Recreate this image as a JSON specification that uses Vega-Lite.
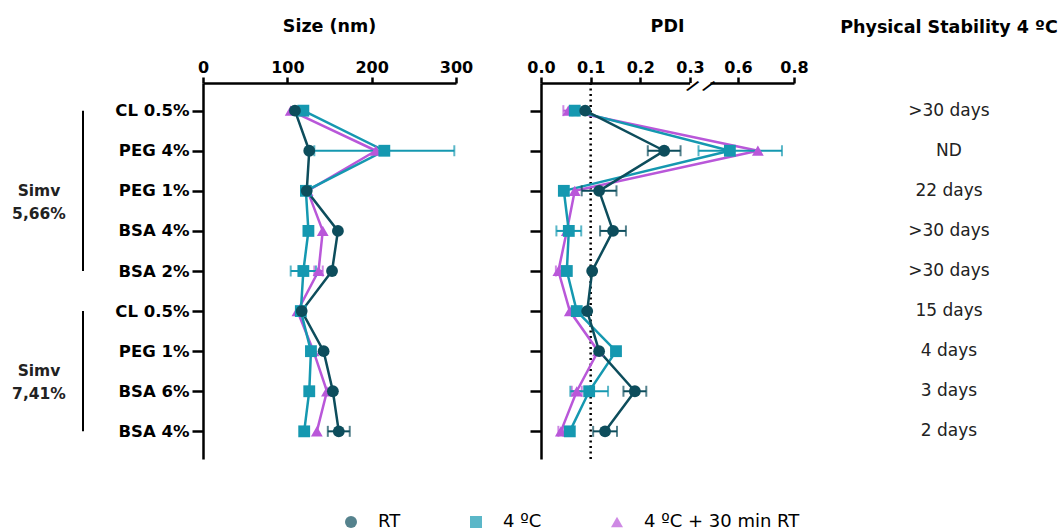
{
  "$schema": "https://vega.github.io/schema/vega-lite/v6.json",
  "padding": {"left": 12, "top": 17, "right": 0, "bottom": 0},
  "bounds": "flush",
  "spacing": 85,
  "datasets": {
    "formulations": [
      {"row": 1, "key": "5,66|CL 0.5%", "group": "Simv 5,66%", "formulation": "CL 0.5%", "stability": ">30 days"},
      {"row": 2, "key": "5,66|PEG 4%", "group": "Simv 5,66%", "formulation": "PEG 4%", "stability": "ND"},
      {"row": 3, "key": "5,66|PEG 1%", "group": "Simv 5,66%", "formulation": "PEG 1%", "stability": "22 days"},
      {"row": 4, "key": "5,66|BSA 4%", "group": "Simv 5,66%", "formulation": "BSA 4%", "stability": ">30 days"},
      {"row": 5, "key": "5,66|BSA 2%", "group": "Simv 5,66%", "formulation": "BSA 2%", "stability": ">30 days"},
      {"row": 6, "key": "7,41|CL 0.5%", "group": "Simv 7,41%", "formulation": "CL 0.5%", "stability": "15 days"},
      {"row": 7, "key": "7,41|PEG 1%", "group": "Simv 7,41%", "formulation": "PEG 1%", "stability": "4 days"},
      {"row": 8, "key": "7,41|BSA 6%", "group": "Simv 7,41%", "formulation": "BSA 6%", "stability": "3 days"},
      {"row": 9, "key": "7,41|BSA 4%", "group": "Simv 7,41%", "formulation": "BSA 4%", "stability": "2 days"}
    ],
    "measurements": [
      {"row": 1, "key": "5,66|CL 0.5%", "condition": "4 ºC + 30 min RT", "size": 104, "sizeErr": null, "pdi": 0.055, "pdiErr": 0.01},
      {"row": 2, "key": "5,66|PEG 4%", "condition": "4 ºC + 30 min RT", "size": 205, "sizeErr": null, "pdi": 0.671, "pdiErr": null},
      {"row": 3, "key": "5,66|PEG 1%", "condition": "4 ºC + 30 min RT", "size": 124, "sizeErr": null, "pdi": 0.068, "pdiErr": null},
      {"row": 4, "key": "5,66|BSA 4%", "condition": "4 ºC + 30 min RT", "size": 142, "sizeErr": null, "pdi": 0.052, "pdiErr": null},
      {"row": 5, "key": "5,66|BSA 2%", "condition": "4 ºC + 30 min RT", "size": 137, "sizeErr": 5, "pdi": 0.035, "pdiErr": 0.005},
      {"row": 6, "key": "7,41|CL 0.5%", "condition": "4 ºC + 30 min RT", "size": 112, "sizeErr": null, "pdi": 0.058, "pdiErr": null},
      {"row": 7, "key": "7,41|PEG 1%", "condition": "4 ºC + 30 min RT", "size": 131, "sizeErr": null, "pdi": 0.115, "pdiErr": null},
      {"row": 8, "key": "7,41|BSA 6%", "condition": "4 ºC + 30 min RT", "size": 147, "sizeErr": null, "pdi": 0.072, "pdiErr": 0.01},
      {"row": 9, "key": "7,41|BSA 4%", "condition": "4 ºC + 30 min RT", "size": 135, "sizeErr": null, "pdi": 0.04, "pdiErr": 0.005},
      {"row": 1, "key": "5,66|CL 0.5%", "condition": "4 ºC", "size": 119, "sizeErr": 5, "pdi": 0.068, "pdiErr": 0.006},
      {"row": 2, "key": "5,66|PEG 4%", "condition": "4 ºC", "size": 215, "sizeErr": 83, "pdi": 0.571, "pdiErr": 0.186},
      {"row": 3, "key": "5,66|PEG 1%", "condition": "4 ºC", "size": 122, "sizeErr": null, "pdi": 0.046, "pdiErr": null},
      {"row": 4, "key": "5,66|BSA 4%", "condition": "4 ºC", "size": 125, "sizeErr": null, "pdi": 0.056, "pdiErr": 0.025},
      {"row": 5, "key": "5,66|BSA 2%", "condition": "4 ºC", "size": 119, "sizeErr": 15, "pdi": 0.052, "pdiErr": null},
      {"row": 6, "key": "7,41|CL 0.5%", "condition": "4 ºC", "size": 116, "sizeErr": null, "pdi": 0.072, "pdiErr": null},
      {"row": 7, "key": "7,41|PEG 1%", "condition": "4 ºC", "size": 128, "sizeErr": null, "pdi": 0.151, "pdiErr": null},
      {"row": 8, "key": "7,41|BSA 6%", "condition": "4 ºC", "size": 126, "sizeErr": null, "pdi": 0.097, "pdiErr": 0.038},
      {"row": 9, "key": "7,41|BSA 4%", "condition": "4 ºC", "size": 120, "sizeErr": null, "pdi": 0.058, "pdiErr": null},
      {"row": 1, "key": "5,66|CL 0.5%", "condition": "RT", "size": 109, "sizeErr": null, "pdi": 0.089, "pdiErr": null},
      {"row": 2, "key": "5,66|PEG 4%", "condition": "RT", "size": 126, "sizeErr": null, "pdi": 0.248, "pdiErr": 0.033},
      {"row": 3, "key": "5,66|PEG 1%", "condition": "RT", "size": 123, "sizeErr": null, "pdi": 0.117, "pdiErr": 0.035},
      {"row": 4, "key": "5,66|BSA 4%", "condition": "RT", "size": 160, "sizeErr": null, "pdi": 0.145, "pdiErr": 0.026},
      {"row": 5, "key": "5,66|BSA 2%", "condition": "RT", "size": 153, "sizeErr": null, "pdi": 0.103, "pdiErr": null},
      {"row": 6, "key": "7,41|CL 0.5%", "condition": "RT", "size": 117, "sizeErr": null, "pdi": 0.093, "pdiErr": null},
      {"row": 7, "key": "7,41|PEG 1%", "condition": "RT", "size": 143, "sizeErr": null, "pdi": 0.117, "pdiErr": null},
      {"row": 8, "key": "7,41|BSA 6%", "condition": "RT", "size": 154, "sizeErr": null, "pdi": 0.189, "pdiErr": 0.023},
      {"row": 9, "key": "7,41|BSA 4%", "condition": "RT", "size": 161, "sizeErr": 13, "pdi": 0.129, "pdiErr": 0.024}
    ]
  },
  "hconcat": [
    {
      "width": 70,
      "height": 376,
      "data": {"name": "formulations"},
      "transform": [
        {"aggregate": [
          {"op": "min", "field": "row", "as": "first"},
          {"op": "max", "field": "row", "as": "last"},
          {"op": "mean", "field": "row", "as": "mid"}
        ], "groupby": ["group"]}
      ],
      "layer": [
        {
          "mark": {"type": "rule", "color": "#000", "strokeWidth": 2},
          "encoding": {
            "y": {"field": "first", "type": "quantitative", "scale": {"domain": [0.31, 9.69], "reverse": true, "nice": false, "zero": false}, "axis": null},
            "y2": {"field": "last"}
          }
        },
        {
          "mark": {"type": "text", "font": "DejaVu Sans", "fontWeight": "bold", "fontSize": 15.5, "lineBreak": " ", "lineHeight": 23, "align": "center", "baseline": "middle", "dx": -44, "color": "#222"},
          "encoding": {
            "y": {"field": "mid", "type": "quantitative"},
            "text": {"field": "group"}
          }
        }
      ]
    },
    {
      "width": 253,
      "height": 376,
      "title": {"text": "Size (nm)", "offset": 24},
      "data": {"name": "measurements"},
      "encoding": {
        "y": {
          "field": "key", "type": "ordinal",
          "scale": {"type": "point", "padding": 0.69, "domain": ["5,66|CL 0.5%", "5,66|PEG 4%", "5,66|PEG 1%", "5,66|BSA 4%", "5,66|BSA 2%", "7,41|CL 0.5%", "7,41|PEG 1%", "7,41|BSA 6%", "7,41|BSA 4%"]},
          "axis": {"title": null, "labelExpr": "split(datum.value, '|')[1]"}
        }
      },
      "layer": [
        {
          "mark": {"type": "line", "strokeWidth": 2.5},
          "encoding": {
            "x": {"field": "size", "type": "quantitative", "scale": {"domain": [0, 300], "nice": false}, "axis": {"title": null, "orient": "top", "values": [0, 100, 200, 300]}},
            "color": {"field": "condition", "type": "nominal"},
            "order": {"field": "row", "type": "quantitative"}
          }
        },
        {
          "transform": [{"filter": "datum.sizeErr > 0"}],
          "mark": {"type": "errorbar", "ticks": true, "size": 11, "thickness": 2},
          "encoding": {
            "x": {"field": "size", "type": "quantitative"},
            "xError": {"field": "sizeErr"},
            "color": {"field": "condition", "type": "nominal"}
          }
        },
        {
          "mark": {"type": "point", "filled": true, "size": 140, "opacity": 1},
          "encoding": {
            "x": {"field": "size", "type": "quantitative"},
            "color": {
              "field": "condition", "type": "nominal",
              "scale": {"domain": ["RT", "4 ºC", "4 ºC + 30 min RT"], "range": ["#0d4d5c", "#1598b0", "#b957d9"]},
              "legend": {
                "title": null,
                "orient": "none",
                "legendX": 294,
                "legendY": 430,
                "direction": "horizontal",
                "symbolSize": 144,
                "symbolOpacity": 1,
                "symbolStrokeWidth": 0,
                "labelFont": "DejaVu Sans",
                "labelFontSize": 18,
                "labelOffset": 18,
                "columnPadding": 66,
                "labelLimit": 300
              }
            },
            "shape": {
              "field": "condition", "type": "nominal",
              "scale": {"domain": ["RT", "4 ºC", "4 ºC + 30 min RT"], "range": ["circle", "square", "triangle-up"]},
              "legend": null
            }
          }
        }
      ]
    },
    {
      "width": 253,
      "height": 376,
      "title": {"text": "PDI", "offset": 24},
      "layer": [
        {
          "data": {"values": [{}]},
          "mark": {"type": "rule", "color": "#000", "strokeWidth": 2.5, "strokeDash": [2, 3.5]},
          "encoding": {
            "x": {"datum": 0.1, "type": "quantitative", "scale": {"domain": [0, 0.3], "range": [0, 149], "nice": false, "zero": false}, "axis": {"title": null, "orient": "top", "values": [0, 0.1, 0.2, 0.3], "format": ".1f"}}
          }
        },
        {
          "data": {"values": [{}]},
          "mark": {"type": "rule", "opacity": 0},
          "encoding": {
            "x": {"datum": 0.8, "type": "quantitative", "scale": {"domain": [0.5, 0.8], "range": [169, 253], "nice": false, "zero": false}, "axis": {"title": null, "orient": "top", "values": [0.6, 0.8], "format": ".1f"}}
          }
        },
        {
          "data": {"values": [{}]},
          "mark": {"type": "rule", "opacity": 0},
          "encoding": {
            "x": {"datum": 1, "type": "quantitative", "scale": {"domain": [0, 1], "range": [151, 167], "nice": false, "zero": false}, "axis": {"title": null, "orient": "top", "values": [0, 1], "labelExpr": "'/'", "domain": false, "ticks": false, "labelPadding": -3, "labelBaseline": "middle", "labelAlign": "center", "labelAngle": 35, "labelFontSize": 17, "zindex": 2}}
          }
        },
        {
          "data": {"name": "measurements"},
          "encoding": {
            "y": {
              "field": "key", "type": "ordinal",
              "scale": {"type": "point", "padding": 0.69, "domain": ["5,66|CL 0.5%", "5,66|PEG 4%", "5,66|PEG 1%", "5,66|BSA 4%", "5,66|BSA 2%", "7,41|CL 0.5%", "7,41|PEG 1%", "7,41|BSA 6%", "7,41|BSA 4%"]},
              "axis": {"title": null, "labels": false}
            }
          },
          "layer": [
            {
              "mark": {"type": "line", "strokeWidth": 2.5},
              "encoding": {
                "x": {"field": "pdi", "type": "quantitative", "scale": {"domain": [0, 0.3, 0.5, 0.8], "range": [0, 149, 169, 253], "nice": false, "zero": false}, "axis": null},
                "color": {"field": "condition", "type": "nominal"},
                "order": {"field": "row", "type": "quantitative"}
              }
            },
            {
              "data": {"values": [{}]},
              "mark": {"type": "rect", "color": "#fff"},
              "encoding": {
                "x": {"datum": 0.302, "type": "quantitative"},
                "x2": {"datum": 0.5}
              }
            },
            {
              "transform": [{"filter": "datum.pdiErr > 0"}],
              "mark": {"type": "errorbar", "ticks": true, "size": 11, "thickness": 2},
              "encoding": {
                "x": {"field": "pdi", "type": "quantitative"},
                "xError": {"field": "pdiErr"},
                "color": {"field": "condition", "type": "nominal"}
              }
            },
            {
              "mark": {"type": "point", "filled": true, "size": 140, "opacity": 1},
              "encoding": {
                "x": {"field": "pdi", "type": "quantitative"},
                "color": {"field": "condition", "type": "nominal"},
                "shape": {"field": "condition", "type": "nominal", "legend": null}
              }
            }
          ]
        }
      ],
      "resolve": {"scale": {"x": "independent"}, "axis": {"x": "independent"}}
    },
    {
      "width": 140,
      "height": 376,
      "title": {"text": "Physical Stability 4 ºC", "offset": 47},
      "data": {"name": "formulations"},
      "mark": {"type": "text", "font": "DejaVu Sans", "fontSize": 17, "color": "#222", "align": "center", "baseline": "middle"},
      "encoding": {
        "y": {
          "field": "key", "type": "ordinal",
          "scale": {"type": "point", "padding": 0.69, "domain": ["5,66|CL 0.5%", "5,66|PEG 4%", "5,66|PEG 1%", "5,66|BSA 4%", "5,66|BSA 2%", "7,41|CL 0.5%", "7,41|PEG 1%", "7,41|BSA 6%", "7,41|BSA 4%"]},
          "axis": null
        },
        "text": {"field": "stability"}
      }
    }
  ],
  "config": {
    "view": {"stroke": null},
    "font": "DejaVu Sans",
    "axis": {
      "domainColor": "#000",
      "domainWidth": 2.5,
      "tickColor": "#000",
      "tickWidth": 2.5,
      "labelColor": "#000",
      "labelFont": "DejaVu Sans",
      "labelFontWeight": "bold",
      "labelFontSize": 16,
      "labelFlush": false,
      "labelOverlap": false,
      "grid": false
    },
    "axisX": {"tickSize": 6, "labelPadding": 2},
    "axisY": {"tickSize": 11, "labelPadding": 3, "labelFontSize": 16.5},
    "title": {"font": "DejaVu Sans", "fontSize": 17.5, "fontWeight": "bold", "color": "#000"}
  }
}
